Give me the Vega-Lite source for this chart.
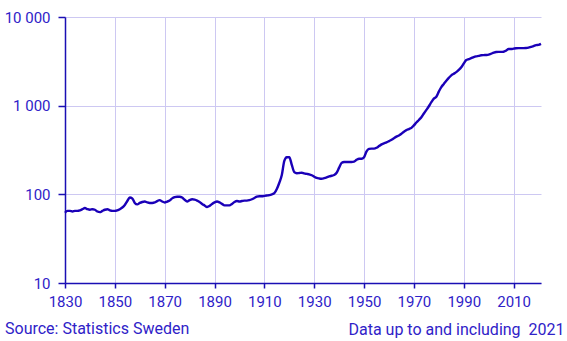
{
  "$schema": "https://vega.github.io/schema/vega-lite/v6.json",
  "width": 476,
  "height": 266,
  "autosize": {"type": "none"},
  "padding": {"left": 65, "top": 17, "right": 26, "bottom": 58},
  "background": "white",
  "config": {
    "view": {"stroke": null},
    "font": "Roboto",
    "axis": {
      "labelFont": "Roboto",
      "labelFontSize": 15,
      "labelColor": "#2f22c8",
      "domainColor": "#1a0fb4",
      "tickColor": "#1a0fb4",
      "gridColor": "#cdc8f2",
      "gridWidth": 1,
      "domainWidth": 1.5,
      "tickWidth": 1.5,
      "labelOverlap": false,
      "labelFlush": false
    }
  },
  "title": {
    "text": "Source: Statistics Sweden",
    "orient": "bottom",
    "anchor": "start",
    "frame": "group",
    "font": "Roboto",
    "fontSize": 16,
    "fontWeight": "normal",
    "color": "#2f22c8",
    "dx": -60,
    "offset": -16
  },
  "data": {
    "values": [
      {"year": 1830, "v": 62}, {"year": 1831, "v": 65}, {"year": 1832, "v": 65}, {"year": 1833, "v": 64}, {"year": 1834, "v": 65},
      {"year": 1835, "v": 65}, {"year": 1836, "v": 66}, {"year": 1837, "v": 68}, {"year": 1838, "v": 70}, {"year": 1839, "v": 68},
      {"year": 1840, "v": 67}, {"year": 1841, "v": 68}, {"year": 1842, "v": 67}, {"year": 1843, "v": 64}, {"year": 1844, "v": 63},
      {"year": 1845, "v": 65}, {"year": 1846, "v": 67}, {"year": 1847, "v": 68}, {"year": 1848, "v": 66}, {"year": 1849, "v": 65},
      {"year": 1850, "v": 65}, {"year": 1851, "v": 66}, {"year": 1852, "v": 68}, {"year": 1853, "v": 71}, {"year": 1854, "v": 76},
      {"year": 1855, "v": 84}, {"year": 1856, "v": 92}, {"year": 1857, "v": 90}, {"year": 1858, "v": 80}, {"year": 1859, "v": 77},
      {"year": 1860, "v": 80}, {"year": 1861, "v": 82}, {"year": 1862, "v": 83}, {"year": 1863, "v": 81}, {"year": 1864, "v": 80},
      {"year": 1865, "v": 80}, {"year": 1866, "v": 81}, {"year": 1867, "v": 84}, {"year": 1868, "v": 86}, {"year": 1869, "v": 83},
      {"year": 1870, "v": 81}, {"year": 1871, "v": 83}, {"year": 1872, "v": 85}, {"year": 1873, "v": 90}, {"year": 1874, "v": 93},
      {"year": 1875, "v": 94}, {"year": 1876, "v": 94}, {"year": 1877, "v": 92}, {"year": 1878, "v": 87}, {"year": 1879, "v": 83},
      {"year": 1880, "v": 86}, {"year": 1881, "v": 88}, {"year": 1882, "v": 87}, {"year": 1883, "v": 85}, {"year": 1884, "v": 82},
      {"year": 1885, "v": 78}, {"year": 1886, "v": 75}, {"year": 1887, "v": 72}, {"year": 1888, "v": 74}, {"year": 1889, "v": 78},
      {"year": 1890, "v": 81}, {"year": 1891, "v": 83}, {"year": 1892, "v": 81}, {"year": 1893, "v": 78}, {"year": 1894, "v": 75},
      {"year": 1895, "v": 75}, {"year": 1896, "v": 75}, {"year": 1897, "v": 78}, {"year": 1898, "v": 82}, {"year": 1899, "v": 84},
      {"year": 1900, "v": 83}, {"year": 1901, "v": 84}, {"year": 1902, "v": 85}, {"year": 1903, "v": 85}, {"year": 1904, "v": 86},
      {"year": 1905, "v": 88}, {"year": 1906, "v": 91}, {"year": 1907, "v": 94}, {"year": 1908, "v": 95}, {"year": 1909, "v": 95},
      {"year": 1910, "v": 96}, {"year": 1911, "v": 97}, {"year": 1912, "v": 98}, {"year": 1913, "v": 100}, {"year": 1914, "v": 103},
      {"year": 1915, "v": 115}, {"year": 1916, "v": 135}, {"year": 1917, "v": 165}, {"year": 1918, "v": 238}, {"year": 1919, "v": 262},
      {"year": 1920, "v": 263}, {"year": 1921, "v": 215}, {"year": 1922, "v": 178}, {"year": 1923, "v": 173}, {"year": 1924, "v": 174},
      {"year": 1925, "v": 175}, {"year": 1926, "v": 172}, {"year": 1927, "v": 170}, {"year": 1928, "v": 168}, {"year": 1929, "v": 164},
      {"year": 1930, "v": 158}, {"year": 1931, "v": 153}, {"year": 1932, "v": 151}, {"year": 1933, "v": 150}, {"year": 1934, "v": 152},
      {"year": 1935, "v": 155}, {"year": 1936, "v": 159}, {"year": 1937, "v": 162}, {"year": 1938, "v": 165}, {"year": 1939, "v": 175},
      {"year": 1940, "v": 200}, {"year": 1941, "v": 226}, {"year": 1942, "v": 232}, {"year": 1943, "v": 232}, {"year": 1944, "v": 232},
      {"year": 1945, "v": 232}, {"year": 1946, "v": 234}, {"year": 1947, "v": 245}, {"year": 1948, "v": 252}, {"year": 1949, "v": 252},
      {"year": 1950, "v": 262}, {"year": 1951, "v": 305}, {"year": 1952, "v": 325}, {"year": 1953, "v": 328}, {"year": 1954, "v": 328},
      {"year": 1955, "v": 335}, {"year": 1956, "v": 350}, {"year": 1957, "v": 366}, {"year": 1958, "v": 376}, {"year": 1959, "v": 385},
      {"year": 1960, "v": 398}, {"year": 1961, "v": 412}, {"year": 1962, "v": 430}, {"year": 1963, "v": 447}, {"year": 1964, "v": 460},
      {"year": 1965, "v": 483}, {"year": 1966, "v": 508}, {"year": 1967, "v": 530}, {"year": 1968, "v": 545}, {"year": 1969, "v": 562},
      {"year": 1970, "v": 600}, {"year": 1971, "v": 645}, {"year": 1972, "v": 690}, {"year": 1973, "v": 740}, {"year": 1974, "v": 815},
      {"year": 1975, "v": 895}, {"year": 1976, "v": 985}, {"year": 1977, "v": 1095}, {"year": 1978, "v": 1200}, {"year": 1979, "v": 1260},
      {"year": 1980, "v": 1440}, {"year": 1981, "v": 1620}, {"year": 1982, "v": 1760}, {"year": 1983, "v": 1910}, {"year": 1984, "v": 2060},
      {"year": 1985, "v": 2200}, {"year": 1986, "v": 2290}, {"year": 1987, "v": 2390}, {"year": 1988, "v": 2530}, {"year": 1989, "v": 2710},
      {"year": 1990, "v": 2990}, {"year": 1991, "v": 3270}, {"year": 1992, "v": 3350}, {"year": 1993, "v": 3430}, {"year": 1994, "v": 3530},
      {"year": 1995, "v": 3600}, {"year": 1996, "v": 3640}, {"year": 1997, "v": 3700}, {"year": 1998, "v": 3720}, {"year": 1999, "v": 3730},
      {"year": 2000, "v": 3760}, {"year": 2001, "v": 3850}, {"year": 2002, "v": 3960}, {"year": 2003, "v": 4030}, {"year": 2004, "v": 4040},
      {"year": 2005, "v": 4040}, {"year": 2006, "v": 4060}, {"year": 2007, "v": 4180}, {"year": 2008, "v": 4360}, {"year": 2009, "v": 4350},
      {"year": 2010, "v": 4400}, {"year": 2011, "v": 4450}, {"year": 2012, "v": 4460}, {"year": 2013, "v": 4460}, {"year": 2014, "v": 4460},
      {"year": 2015, "v": 4470}, {"year": 2016, "v": 4520}, {"year": 2017, "v": 4610}, {"year": 2018, "v": 4700}, {"year": 2019, "v": 4820},
      {"year": 2020, "v": 4850}, {"year": 2021, "v": 4970}
    ]
  },
  "mark": {"type": "line", "color": "#1a00b8", "strokeWidth": 2.4, "interpolate": "monotone"},
  "encoding": {
    "x": {
      "field": "year",
      "type": "quantitative",
      "scale": {"domain": [1830, 2021], "nice": false, "zero": false},
      "axis": {
        "values": [1830, 1850, 1870, 1890, 1910, 1930, 1950, 1970, 1990, 2010],
        "format": "d",
        "tickSize": 5,
        "labelPadding": 6,
        "title": "Data up to and including\u00a0 2021",
        "titleFont": "Roboto",
        "titleFontSize": 16,
        "titleFontWeight": "normal",
        "titleColor": "#2f22c8",
        "titleAnchor": "end",
        "titleAlign": "right",
        "titleX": 499,
        "titleY": 38,
        "titleBaseline": "top"
      }
    },
    "y": {
      "field": "v",
      "type": "quantitative",
      "scale": {"type": "log", "domain": [10, 10000], "nice": false},
      "axis": {
        "values": [10, 100, 1000, 10000],
        "labelExpr": "replace(format(datum.value, ','), ',', ' ')",
        "tickSize": 7,
        "labelPadding": 8,
        "title": null
      }
    }
  }
}
